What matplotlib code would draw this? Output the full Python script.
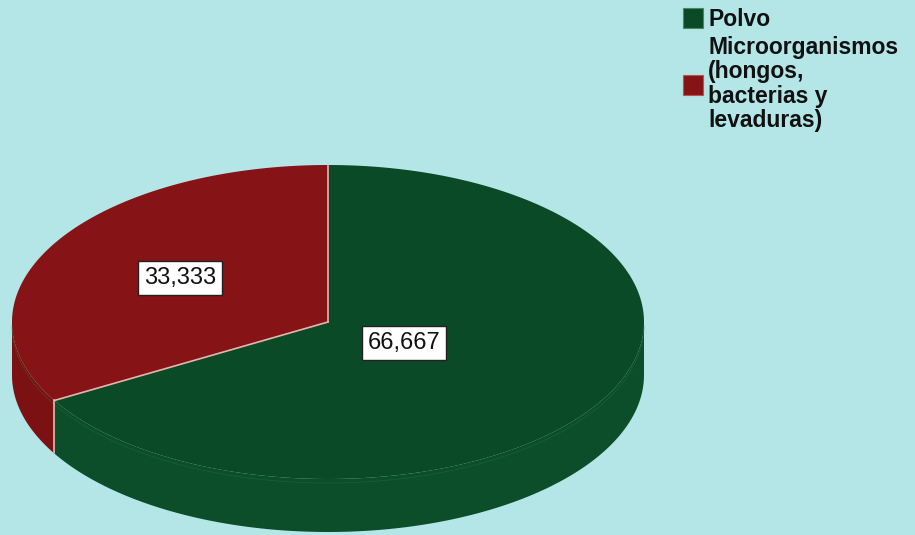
import numpy as np
import matplotlib
matplotlib.use("Agg")
import matplotlib.pyplot as plt
from matplotlib.patches import Polygon, Rectangle

# category shares (percent)
labels = ['Polvo', 'Microorganismos\n(hongos,\nbacterias y\nlevaduras)']
values = [66.667, 33.333]
value_text = ['66,667', '33,333']
top_colors = ['#0b4a26', '#861315']
side_colors = ['#0c4e29', '#7c1113']

bg = '#b4e6e8'

plt.rcParams['font.family'] = ['Liberation Sans', 'DejaVu Sans']

fig = plt.figure(figsize=(9.15, 5.35), dpi=100, facecolor=bg)
ax = fig.add_axes([0, 0, 1, 1])
ax.set_xlim(0, 915)
ax.set_ylim(535, 0)
ax.axis('off')

# pie geometry in pixel space (y down)
cx, cy = 328, 322
ra, rb = 316, 157
depth = 53

def rim(t):
    t = np.radians(t)
    return cx + ra * np.cos(t), cy - rb * np.sin(t)

# slices run clockwise from 12 o'clock
fracs = np.array(values) / sum(values)
starts = 90 - 360 * np.concatenate([[0], np.cumsum(fracs)[:-1]])
ends = starts - 360 * fracs

# side walls: only the front half (180..360 deg) is visible
for s, e, col in zip(starts, ends, side_colors):
    lo, hi = min(s, e), max(s, e)
    for shift in (0, 360, -360):
        a0 = max(lo + shift, 180)
        a1 = min(hi + shift, 360)
        if a1 <= a0:
            continue
        t = np.linspace(a0, a1, 120)
        x, y = rim(t)
        pts = np.column_stack([np.r_[x, x[::-1]], np.r_[y, y[::-1] + depth]])
        ax.add_patch(Polygon(pts, closed=True, facecolor=col, edgecolor='none', zorder=1))

# faint highlight along the rim edge
t = np.linspace(180, 360, 200)
x, y = rim(t)
ax.plot(x, y + 4, color='#2a6a40', lw=0.6, alpha=0.5, zorder=2)

# top faces
for s, e, col in zip(starts, ends, top_colors):
    t = np.linspace(s, e, 240)
    x, y = rim(t)
    pts = np.column_stack([np.r_[cx, x], np.r_[cy, y]])
    ax.add_patch(Polygon(pts, closed=True, facecolor=col, edgecolor='none', zorder=3))

# light separator lines between slices
for s in starts:
    x, y = rim(s)
    ax.plot([cx, x], [cy, y], color='#e3b7b0', lw=1.2, zorder=4)
    if 180 <= (s % 360) <= 360:
        ax.plot([x, x], [y, y + depth], color='#e3b7b0', lw=1.2, zorder=4)

# value labels in boxes
label_pos = [(404, 343), (180, 278)]
for (lx, ly), txt in zip(label_pos, value_text):
    ax.text(lx, ly, txt, fontsize=17, color='#111111', ha='center', va='center', zorder=5,
            bbox=dict(boxstyle='square,pad=0.25', facecolor='white', edgecolor='#222222', lw=1))

# legend
ax.add_patch(Rectangle((683, 8), 20, 20, facecolor=top_colors[0], edgecolor='#4a8a5a', lw=0.8, zorder=5))
ax.text(708, 19, labels[0], fontsize=16.5, fontweight='bold', color='#111111',
        va='center', ha='left', zorder=5)
ax.add_patch(Rectangle((683, 75), 20, 20, facecolor=top_colors[1], edgecolor='#c05050', lw=0.8, zorder=5))
ax.text(708, 84, labels[1], fontsize=16.5, fontweight='bold', color='#111111',
        va='center', ha='left', linespacing=1.08, zorder=5)

fig.savefig('out.png', dpi=100, facecolor=bg)
